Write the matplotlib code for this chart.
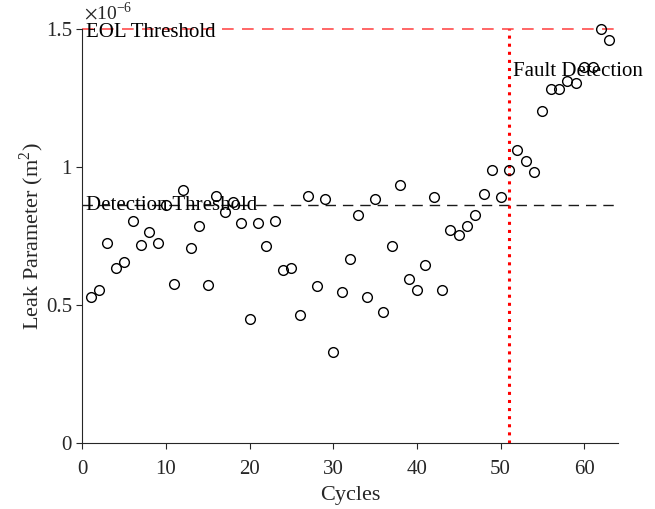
import numpy as np
import matplotlib
matplotlib.use('Agg')
from matplotlib import pyplot as plt

# leak parameter per cycle, in units of 1e-6 m^2
cycles = list(range(1, 64))
leak = [0.529, 0.554, 0.725, 0.634, 0.656, 0.804, 0.717, 0.764, 0.725, 0.862,
        0.576, 0.917, 0.707, 0.786, 0.572, 0.895, 0.837, 0.873, 0.797, 0.449,
        0.797, 0.714, 0.804, 0.627, 0.634, 0.464, 0.895, 0.569, 0.884, 0.330,
        0.547, 0.667, 0.826, 0.529, 0.884, 0.475, 0.714, 0.935, 0.594, 0.554,
        0.645, 0.891, 0.554, 0.772, 0.754, 0.786, 0.826, 0.902, 0.989, 0.891,
        0.989, 1.062, 1.022, 0.982, 1.203, 1.283, 1.283, 1.312, 1.304, 1.362,
        1.362, 1.500, 1.460]
detection_threshold = 0.862
eol_threshold = 1.5
fault_cycle = 51

plt.rcParams['font.family'] = ['Liberation Serif', 'DejaVu Serif']
plt.rcParams['mathtext.fontset'] = 'stix'

fig = plt.figure(figsize=(6.55, 5.09), dpi=100)
ax = fig.add_axes([0.1257, 0.1297, 0.8173, 0.8133])

axc = '#262626'
ax.plot([0, 64], [eol_threshold, eol_threshold], '--', color='#ff4d4d', lw=1.2,
        dashes=(7, 5), clip_on=False)
ax.plot([0, 64], [detection_threshold, detection_threshold], '--', color='#1a1a1a', lw=1.0,
        dashes=(7.5, 5))
ax.plot([fault_cycle, fault_cycle], [0, eol_threshold], ':', color='red', lw=2.2, clip_on=False)
ax.plot(cycles, leak, 'o', mfc='none', mec='k', ms=7, mew=1.0, clip_on=False)

ax.text(0.4, 1.486, 'EOL Threshold', fontsize=15, va='center', ha='left')
ax.text(0.4, detection_threshold, 'Detection Threshold', fontsize=15, va='center', ha='left')
ax.text(51.5, 1.345, 'Fault Detection', fontsize=15, va='center', ha='left')
ax.text(0.2, 1.52, r'$\times$10$^{\mathregular{-6}}$', fontsize=14, va='bottom', ha='left', color=axc)

ax.set_xlim(0, 64)
ax.set_ylim(0, 1.5)
ax.set_xticks([0, 10, 20, 30, 40, 50, 60])
ax.set_yticks([0, 0.5, 1, 1.5])
ax.set_yticklabels(['0', '0.5', '1', '1.5'])
ax.spines['top'].set_visible(False)
ax.spines['right'].set_visible(False)
for s in ['left', 'bottom']:
    ax.spines[s].set_color(axc)
    ax.spines[s].set_linewidth(0.8)
ax.tick_params(direction='out', length=4, width=0.8, color=axc, labelcolor=axc, labelsize=15)
ax.tick_params(axis='x', pad=8)
ax.set_xlabel('Cycles', fontsize=16, color=axc, labelpad=5)
ax.set_ylabel(r'Leak Parameter (m$^{\mathregular{2}}$)', fontsize=16, color=axc, labelpad=0)

fig.savefig('out.png', dpi=100)
